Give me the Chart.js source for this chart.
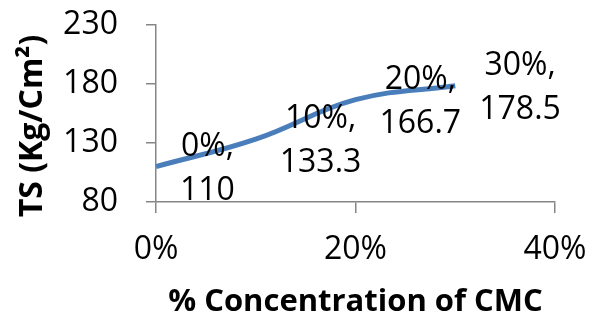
<!DOCTYPE html>
<html>
<head>
<meta charset="utf-8">
<script src="https://cdn.jsdelivr.net/npm/chart.js@4.4.1/dist/chart.umd.min.js"></script>
<style>
  html, body { margin: 0; padding: 0; background: #fff; }
  #wrap { width: 600px; height: 321px; position: relative; }
</style>
</head>
<body>
<div id="wrap"><canvas id="c"></canvas></div>
<script>
// CMC concentration (fraction) and tensile strength readings
const concentration = [0, 0.1, 0.2, 0.3];
const tensileStrength = [110, 133.3, 166.7, 178.5];
const yTickValues = [80, 130, 180, 230];
const xTickValues = [0, 0.2, 0.4];
const xTitle = '% Concentration of CMC';
const yTitle = 'TS (Kg/Cm\u00B2)';

const FONT = '"Open Sans", "Liberation Sans", sans-serif';
const AXIS_GREY = '#868686';
const pct = v => Math.round(v * 100) + '%';

// Two-line "x, y" labels placed to the right of each point
const pointLabels = {
  id: 'pointLabels',
  afterDatasetsDraw(chart) {
    const ctx = chart.ctx;
    const xs = chart.scales.x, ys = chart.scales.y;
    ctx.save();
    ctx.font = '32px ' + FONT;
    ctx.fillStyle = '#000';
    ctx.textAlign = 'center';
    ctx.textBaseline = 'middle';
    concentration.forEach((c, i) => {
      const px = xs.getPixelForValue(c);
      const py = ys.getPixelForValue(tensileStrength[i]);
      const lines = [pct(c) + ',', String(tensileStrength[i])];
      const w = Math.max(...lines.map(l => ctx.measureText(l).width));
      const cx = px + 24 + w / 2;
      ctx.fillText(lines[0], cx, py - 20);
      ctx.fillText(lines[1], cx, py + 24);
    });
    ctx.restore();
  }
};

// Bold axis titles
const axisTitles = {
  id: 'axisTitles',
  afterDraw(chart) {
    const ctx = chart.ctx;
    const a = chart.chartArea;
    ctx.save();
    ctx.fillStyle = '#000';
    ctx.textAlign = 'center';
    ctx.textBaseline = 'middle';
    ctx.font = 'bold 31px ' + FONT;
    ctx.fillText(xTitle, (a.left + a.right) / 2, 302);
    ctx.font = 'bold 32px ' + FONT;
    ctx.translate(33, 126);
    ctx.rotate(-Math.PI / 2);
    ctx.fillText(yTitle, 0, 0);
    ctx.restore();
  }
};

new Chart(document.getElementById('c'), {
  type: 'line',
  data: {
    datasets: [{
      data: concentration.map((c, i) => ({ x: c, y: tensileStrength[i] })),
      borderColor: '#4a7ebb',
      borderWidth: 5,
      pointRadius: 0,
      tension: 0.4,
      fill: false
    }]
  },
  options: {
    responsive: true,
    maintainAspectRatio: false,
    animation: false,
    layout: { padding: { top: 25, right: 45, bottom: 0, left: 0 } },
    plugins: { legend: { display: false }, tooltip: { enabled: false } },
    scales: {
      x: {
        type: 'linear',
        min: 0, max: 0.4,
        afterBuildTicks: s => { s.ticks = xTickValues.map(v => ({ value: v })); },
        afterFit: s => { s.height = 119; s.paddingLeft = 0; s.paddingRight = 0; },
        border: { color: AXIS_GREY, width: 1.5 },
        grid: { drawOnChartArea: false, tickLength: 11, color: AXIS_GREY, lineWidth: 1.5 },
        ticks: {
          callback: v => pct(v),
          font: { family: FONT, size: 32 },
          color: '#000',
          padding: 18,
          maxRotation: 0
        }
      },
      y: {
        min: 80, max: 230,
        afterBuildTicks: s => { s.ticks = yTickValues.map(v => ({ value: v })); },
        afterFit: s => { s.width = 156; s.paddingTop = 0; s.paddingBottom = 0; },
        border: { color: AXIS_GREY, width: 1.5 },
        grid: { drawOnChartArea: false, tickLength: 10, color: AXIS_GREY, lineWidth: 1.5 },
        ticks: {
          font: { family: FONT, size: 32 },
          color: '#000',
          padding: 28
        }
      }
    }
  },
  plugins: [pointLabels, axisTitles]
});
</script>
</body>
</html>
